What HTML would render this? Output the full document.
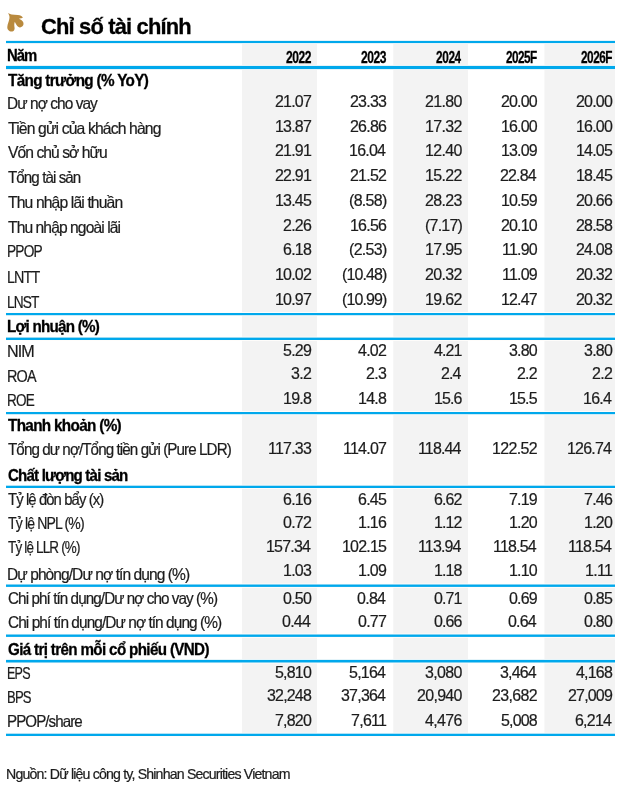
<!DOCTYPE html>
<html><head><meta charset='utf-8'><title>Chỉ số tài chính</title><style>
html,body{margin:0;padding:0;background:#fff}
body{width:627px;height:787px;position:relative;overflow:hidden;font-family:"Liberation Sans", sans-serif;color:#1c1c1c}
.t,.n{position:absolute;white-space:nowrap;line-height:1;transform-origin:0 0}
.n{font-size:17.2px;letter-spacing:-0.8px;transform:scaleX(0.93)}
.t,.n{-webkit-text-stroke:0.22px #1c1c1c}
.b{font-weight:700;color:#000;-webkit-text-stroke:0.3px #000}
.w{position:absolute;left:0;top:0;width:627px;height:787px;will-change:transform}
</style></head><body>
<svg style='position:absolute;left:0;top:0' width='627' height='787' viewBox='0 0 627 787'>
<rect x='242.0' y='43.6' width='75.0' height='690.4' fill='#f3f3f3'/>
<rect x='393.3' y='43.6' width='74.7' height='690.4' fill='#f3f3f3'/>
<rect x='544.4' y='43.6' width='70.6' height='690.4' fill='#f3f3f3'/>
<rect x='6' y='40.0' width='609' height='4.0' fill='#fffdfb'/>
<rect x='6' y='40.9' width='609' height='2.2' fill='#00a8ec'/>
<rect x='6' y='65.0' width='609' height='5.0' fill='#fffdfb'/>
<rect x='6' y='65.9' width='609' height='3.2' fill='#00a8ec'/>
<rect x='6' y='312.1' width='609' height='4.0' fill='#fffdfb'/>
<rect x='6' y='313.0' width='609' height='2.2' fill='#00a8ec'/>
<rect x='6' y='336.7' width='609' height='4.2' fill='#fffdfb'/>
<rect x='6' y='337.6' width='609' height='2.4' fill='#00a8ec'/>
<rect x='6' y='411.1' width='609' height='4.0' fill='#fffdfb'/>
<rect x='6' y='412.0' width='609' height='2.2' fill='#00a8ec'/>
<rect x='6' y='484.8' width='609' height='4.1' fill='#fffdfb'/>
<rect x='6' y='485.7' width='609' height='2.3' fill='#00a8ec'/>
<rect x='6' y='583.6' width='609' height='4.2' fill='#fffdfb'/>
<rect x='6' y='584.5' width='609' height='2.4' fill='#00a8ec'/>
<rect x='6' y='633.6' width='609' height='4.2' fill='#fffdfb'/>
<rect x='6' y='634.5' width='609' height='2.4' fill='#00a8ec'/>
<rect x='6' y='659.0' width='609' height='4.4' fill='#fffdfb'/>
<rect x='6' y='659.9' width='609' height='2.6' fill='#00a8ec'/>
<rect x='6' y='732.8' width='609' height='4.1' fill='#fffdfb'/>
<rect x='6' y='733.7' width='609' height='2.3' fill='#00a8ec'/>
<path fill='#b98a3e' d='M8.10 13.10 Q10.20 14.50 11.60 14.60 Q13.00 14.70 14.45 14.70 Q15.90 14.70 17.85 14.90 Q19.80 15.10 20.90 15.70 Q22.00 16.30 22.90 17.50 Q22.00 18.30 21.20 18.20 Q20.40 18.10 18.80 18.70 Q20.00 19.30 20.95 19.80 Q21.90 20.30 22.80 21.60 Q23.70 22.90 23.50 24.30 Q23.30 25.70 22.20 26.60 Q21.10 27.50 19.80 27.40 Q18.50 27.30 17.55 26.35 Q16.60 25.40 16.10 24.35 Q15.60 23.30 14.80 21.80 Q14.20 23.50 14.27 25.10 Q14.35 26.70 14.57 27.80 Q14.80 28.90 14.25 29.95 Q13.70 31.00 12.45 31.40 Q11.20 31.80 9.75 31.15 Q8.30 30.50 7.70 29.25 Q7.10 28.00 7.35 26.40 Q7.60 24.80 8.25 22.85 Q8.90 20.90 9.25 19.35 Q9.60 17.80 9.45 16.50 Q9.30 15.20 8.10 13.10Z'/>
</svg>
<div class='w'>
<div class='t b' style='left:41.00px;top:15.00px;font-size:22.7px;letter-spacing:-0.861px;transform:scaleX(0.9663)'>Chỉ số tài chính</div>
<div class='t b' style='left:7.00px;top:48.00px;font-size:15.8px;letter-spacing:-1.000px;transform:scaleX(0.9412)'>Năm</div>
<div class='t b' style='left:8.00px;top:73.00px;font-size:15.8px;letter-spacing:-0.691px;transform:scaleX(0.9664)'>Tăng trưởng (% YoY)</div>
<div class='t' style='left:7.00px;top:95.00px;font-size:16.5px;letter-spacing:-1.000px;transform:scaleX(0.9362)'>Dư nợ cho vay</div>
<div class='t' style='left:8.00px;top:120.00px;font-size:16.5px;letter-spacing:-0.908px;transform:scaleX(0.9522)'>Tiền gửi của khách hàng</div>
<div class='t' style='left:8.00px;top:144.00px;font-size:16.5px;letter-spacing:-1.000px;transform:scaleX(0.9485)'>Vốn chủ sở hữu</div>
<div class='t' style='left:8.00px;top:169.00px;font-size:16.5px;letter-spacing:-1.000px;transform:scaleX(0.9180)'>Tổng tài sản</div>
<div class='t' style='left:8.00px;top:194.00px;font-size:16.5px;letter-spacing:-0.916px;transform:scaleX(0.9508)'>Thu nhập lãi thuần</div>
<div class='t' style='left:8.00px;top:219.00px;font-size:16.5px;letter-spacing:-0.972px;transform:scaleX(0.9471)'>Thu nhập ngoài lãi</div>
<div class='t' style='left:7.00px;top:243.00px;font-size:16.5px;letter-spacing:-1.000px;transform:scaleX(0.8309)'>PPOP</div>
<div class='t' style='left:7.00px;top:269.00px;font-size:16.5px;letter-spacing:-1.000px;transform:scaleX(0.8671)'>LNTT</div>
<div class='t' style='left:7.00px;top:294.00px;font-size:16.5px;letter-spacing:-1.000px;transform:scaleX(0.8287)'>LNST</div>
<div class='t b' style='left:7.00px;top:319.00px;font-size:15.8px;letter-spacing:-0.786px;transform:scaleX(0.9615)'>Lợi nhuận (%)</div>
<div class='t' style='left:7.00px;top:343.00px;font-size:16.5px;letter-spacing:-0.972px;transform:scaleX(0.9762)'>NIM</div>
<div class='t' style='left:7.00px;top:368.00px;font-size:16.5px;letter-spacing:-1.000px;transform:scaleX(0.8741)'>ROA</div>
<div class='t' style='left:7.00px;top:392.00px;font-size:16.5px;letter-spacing:-1.000px;transform:scaleX(0.8207)'>ROE</div>
<div class='t b' style='left:8.00px;top:418.00px;font-size:15.8px;letter-spacing:-0.697px;transform:scaleX(0.9674)'>Thanh khoản (%)</div>
<div class='t' style='left:8.00px;top:441.00px;font-size:16.5px;letter-spacing:-1.000px;transform:scaleX(0.9213)'>Tổng dư nợ/Tổng tiền gửi (Pure LDR)</div>
<div class='t b' style='left:8.00px;top:468.00px;font-size:15.8px;letter-spacing:-0.845px;transform:scaleX(0.9556)'>Chất lượng tài sản</div>
<div class='t' style='left:8.00px;top:491.00px;font-size:16.5px;letter-spacing:-1.000px;transform:scaleX(0.8996)'>Tỷ lệ đòn bẩy (x)</div>
<div class='t' style='left:8.00px;top:515.00px;font-size:16.5px;letter-spacing:-1.000px;transform:scaleX(0.8505)'>Tỷ lệ NPL (%)</div>
<div class='t' style='left:8.00px;top:539.00px;font-size:16.5px;letter-spacing:-1.000px;transform:scaleX(0.8160)'>Tỷ lệ LLR (%)</div>
<div class='t' style='left:7.00px;top:566.00px;font-size:16.5px;letter-spacing:-1.000px;transform:scaleX(0.9436)'>Dự phòng/Dư nợ tín dụng (%)</div>
<div class='t' style='left:8.00px;top:590.00px;font-size:16.5px;letter-spacing:-1.000px;transform:scaleX(0.9236)'>Chi phí tín dụng/Dư nợ cho vay (%)</div>
<div class='t' style='left:8.00px;top:614.00px;font-size:16.5px;letter-spacing:-1.000px;transform:scaleX(0.9348)'>Chi phí tín dụng/Dư nợ tín dụng (%)</div>
<div class='t b' style='left:8.00px;top:642.00px;font-size:15.8px;letter-spacing:-0.681px;transform:scaleX(0.9615)'>Giá trị trên mỗi cổ phiếu (VND)</div>
<div class='t' style='left:7.00px;top:665.00px;font-size:16.5px;letter-spacing:-1.000px;transform:scaleX(0.7578)'>EPS</div>
<div class='t' style='left:7.00px;top:689.00px;font-size:16.5px;letter-spacing:-1.000px;transform:scaleX(0.7933)'>BPS</div>
<div class='t' style='left:7.00px;top:713.00px;font-size:16.5px;letter-spacing:-1.000px;transform:scaleX(0.9160)'>PPOP/share</div>
<div class='t' style='left:6.00px;top:766.00px;font-size:15.0px;letter-spacing:-0.880px;transform:scaleX(0.9434)'>Nguồn: Dữ liệu công ty, Shinhan Securities Vietnam</div>
<div class='t b' style='left:286.00px;top:49.00px;font-size:17.0px;letter-spacing:-0.663px;transform:scaleX(0.7096)'>2022</div>
<div class='t b' style='left:361.00px;top:49.00px;font-size:17.0px;letter-spacing:-0.663px;transform:scaleX(0.7096)'>2023</div>
<div class='t b' style='left:436.00px;top:49.00px;font-size:17.0px;letter-spacing:-0.527px;transform:scaleX(0.6933)'>2024</div>
<div class='t b' style='left:506.00px;top:49.00px;font-size:17.0px;letter-spacing:-0.769px;transform:scaleX(0.6906)'>2025F</div>
<div class='t b' style='left:581.00px;top:49.00px;font-size:17.0px;letter-spacing:-0.661px;transform:scaleX(0.6906)'>2026F</div>
<div class='n' style='left:275px;top:93px;letter-spacing:-0.855px'>21.07</div>
<div class='n' style='left:350px;top:93px;letter-spacing:-0.828px'>23.33</div>
<div class='n' style='left:425px;top:93px;letter-spacing:-0.694px'>21.80</div>
<div class='n' style='left:501px;top:93px;letter-spacing:-0.909px'>20.00</div>
<div class='n' style='left:576px;top:93px;letter-spacing:-0.855px'>20.00</div>
<div class='n' style='left:275px;top:118px;letter-spacing:-0.855px'>13.87</div>
<div class='n' style='left:350px;top:118px;letter-spacing:-0.828px'>26.86</div>
<div class='n' style='left:425px;top:118px;letter-spacing:-0.694px'>17.32</div>
<div class='n' style='left:501px;top:118px;letter-spacing:-0.909px'>16.00</div>
<div class='n' style='left:576px;top:118px;letter-spacing:-0.855px'>16.00</div>
<div class='n' style='left:275px;top:142px;letter-spacing:-0.855px'>21.91</div>
<div class='n' style='left:349px;top:142px;letter-spacing:-0.809px'>16.04</div>
<div class='n' style='left:425px;top:142px;letter-spacing:-0.694px'>12.40</div>
<div class='n' style='left:501px;top:142px;letter-spacing:-0.909px'>13.09</div>
<div class='n' style='left:576px;top:142px;letter-spacing:-0.855px'>14.05</div>
<div class='n' style='left:275px;top:167px;letter-spacing:-0.855px'>22.91</div>
<div class='n' style='left:350px;top:167px;letter-spacing:-0.828px'>21.52</div>
<div class='n' style='left:425px;top:167px;letter-spacing:-0.694px'>15.22</div>
<div class='n' style='left:500px;top:167px;letter-spacing:-0.890px'>22.84</div>
<div class='n' style='left:576px;top:167px;letter-spacing:-0.855px'>18.45</div>
<div class='n' style='left:275px;top:192px;letter-spacing:-0.855px'>13.45</div>
<div class='n' style='left:349.00px;top:192.00px;letter-spacing:-0.728px'>(8.58)</div>
<div class='n' style='left:425px;top:192px;letter-spacing:-0.694px'>28.23</div>
<div class='n' style='left:501px;top:192px;letter-spacing:-0.909px'>10.59</div>
<div class='n' style='left:576px;top:192px;letter-spacing:-0.855px'>20.66</div>
<div class='n' style='left:283px;top:217px;letter-spacing:-0.821px'>2.26</div>
<div class='n' style='left:350px;top:217px;letter-spacing:-0.828px'>16.56</div>
<div class='n' style='left:425.00px;top:217.00px;letter-spacing:-0.835px'>(7.17)</div>
<div class='n' style='left:501px;top:217px;letter-spacing:-0.909px'>20.10</div>
<div class='n' style='left:576px;top:217px;letter-spacing:-0.855px'>28.58</div>
<div class='n' style='left:283px;top:241px;letter-spacing:-0.821px'>6.18</div>
<div class='n' style='left:349.00px;top:241.00px;letter-spacing:-0.728px'>(2.53)</div>
<div class='n' style='left:425px;top:241px;letter-spacing:-0.694px'>17.95</div>
<div class='n' style='left:502px;top:241px;letter-spacing:-0.858px'>11.90</div>
<div class='n' style='left:576px;top:241px;letter-spacing:-0.855px'>24.08</div>
<div class='n' style='left:275px;top:266px;letter-spacing:-0.855px'>10.02</div>
<div class='n' style='left:342.00px;top:266.00px;letter-spacing:-0.945px'>(10.48)</div>
<div class='n' style='left:425px;top:266px;letter-spacing:-0.694px'>20.32</div>
<div class='n' style='left:502px;top:266px;letter-spacing:-0.858px'>11.09</div>
<div class='n' style='left:576px;top:266px;letter-spacing:-0.855px'>20.32</div>
<div class='n' style='left:275px;top:291px;letter-spacing:-0.855px'>10.97</div>
<div class='n' style='left:342.00px;top:291.00px;letter-spacing:-0.945px'>(10.99)</div>
<div class='n' style='left:425px;top:291px;letter-spacing:-0.694px'>19.62</div>
<div class='n' style='left:501px;top:291px;letter-spacing:-0.909px'>12.47</div>
<div class='n' style='left:576px;top:291px;letter-spacing:-0.855px'>20.32</div>
<div class='n' style='left:283px;top:342px;letter-spacing:-0.821px'>5.29</div>
<div class='n' style='left:358px;top:342px;letter-spacing:-0.785px'>4.02</div>
<div class='n' style='left:434px;top:342px;letter-spacing:-0.964px'>4.21</div>
<div class='n' style='left:509px;top:342px;letter-spacing:-0.893px'>3.80</div>
<div class='n' style='left:584px;top:342px;letter-spacing:-0.821px'>3.80</div>
<div class='n' style='left:291px;top:365px;letter-spacing:-0.753px'>3.2</div>
<div class='n' style='left:366px;top:365px;letter-spacing:-0.699px'>2.3</div>
<div class='n' style='left:441px;top:365px;letter-spacing:-0.930px'>2.4</div>
<div class='n' style='left:517px;top:365px;letter-spacing:-0.861px'>2.2</div>
<div class='n' style='left:592px;top:365px;letter-spacing:-0.753px'>2.2</div>
<div class='n' style='left:283px;top:390px;letter-spacing:-0.821px'>19.8</div>
<div class='n' style='left:358px;top:390px;letter-spacing:-0.785px'>14.8</div>
<div class='n' style='left:434px;top:390px;letter-spacing:-0.964px'>15.6</div>
<div class='n' style='left:509px;top:390px;letter-spacing:-0.893px'>15.5</div>
<div class='n' style='left:583px;top:390px;letter-spacing:-0.796px'>16.4</div>
<div class='n' style='left:268px;top:440px;letter-spacing:-0.835px'>117.33</div>
<div class='n' style='left:343px;top:440px;letter-spacing:-0.813px'>114.07</div>
<div class='n' style='left:418px;top:440px;letter-spacing:-0.906px'>118.44</div>
<div class='n' style='left:492px;top:440px;letter-spacing:-0.703px'>122.52</div>
<div class='n' style='left:567px;top:440px;letter-spacing:-0.860px'>126.74</div>
<div class='n' style='left:283px;top:491px;letter-spacing:-0.821px'>6.16</div>
<div class='n' style='left:358px;top:491px;letter-spacing:-0.785px'>6.45</div>
<div class='n' style='left:434px;top:491px;letter-spacing:-0.964px'>6.62</div>
<div class='n' style='left:509px;top:491px;letter-spacing:-0.893px'>7.19</div>
<div class='n' style='left:584px;top:491px;letter-spacing:-0.821px'>7.46</div>
<div class='n' style='left:283px;top:514px;letter-spacing:-0.821px'>0.72</div>
<div class='n' style='left:358px;top:514px;letter-spacing:-0.785px'>1.16</div>
<div class='n' style='left:434px;top:514px;letter-spacing:-0.964px'>1.12</div>
<div class='n' style='left:509px;top:514px;letter-spacing:-0.893px'>1.20</div>
<div class='n' style='left:584px;top:514px;letter-spacing:-0.821px'>1.20</div>
<div class='n' style='left:266px;top:538px;letter-spacing:-0.860px'>157.34</div>
<div class='n' style='left:342px;top:538px;letter-spacing:-0.854px'>102.15</div>
<div class='n' style='left:418px;top:538px;letter-spacing:-0.906px'>113.94</div>
<div class='n' style='left:493px;top:538px;letter-spacing:-0.863px'>118.54</div>
<div class='n' style='left:568px;top:538px;letter-spacing:-0.820px'>118.54</div>
<div class='n' style='left:283px;top:562px;letter-spacing:-0.821px'>1.03</div>
<div class='n' style='left:358px;top:562px;letter-spacing:-0.785px'>1.09</div>
<div class='n' style='left:434px;top:562px;letter-spacing:-0.964px'>1.18</div>
<div class='n' style='left:509px;top:562px;letter-spacing:-0.893px'>1.10</div>
<div class='n' style='left:585px;top:562px;letter-spacing:-0.754px'>1.11</div>
<div class='n' style='left:283px;top:590px;letter-spacing:-0.821px'>0.50</div>
<div class='n' style='left:357px;top:590px;letter-spacing:-0.760px'>0.84</div>
<div class='n' style='left:434px;top:590px;letter-spacing:-0.964px'>0.71</div>
<div class='n' style='left:509px;top:590px;letter-spacing:-0.893px'>0.69</div>
<div class='n' style='left:584px;top:590px;letter-spacing:-0.821px'>0.85</div>
<div class='n' style='left:282px;top:613px;letter-spacing:-0.796px'>0.44</div>
<div class='n' style='left:358px;top:613px;letter-spacing:-0.785px'>0.77</div>
<div class='n' style='left:434px;top:613px;letter-spacing:-0.964px'>0.66</div>
<div class='n' style='left:508px;top:613px;letter-spacing:-0.868px'>0.64</div>
<div class='n' style='left:584px;top:613px;letter-spacing:-0.821px'>0.80</div>
<div class='n' style='left:275px;top:664px;letter-spacing:-0.855px'>5,810</div>
<div class='n' style='left:349px;top:664px;letter-spacing:-0.809px'>5,164</div>
<div class='n' style='left:425px;top:664px;letter-spacing:-0.694px'>3,080</div>
<div class='n' style='left:500px;top:664px;letter-spacing:-0.890px'>3,464</div>
<div class='n' style='left:576px;top:664px;letter-spacing:-0.855px'>4,168</div>
<div class='n' style='left:267px;top:687px;letter-spacing:-0.875px'>32,248</div>
<div class='n' style='left:341px;top:687px;letter-spacing:-0.839px'>37,364</div>
<div class='n' style='left:417px;top:687px;letter-spacing:-0.746px'>20,940</div>
<div class='n' style='left:492px;top:687px;letter-spacing:-0.703px'>23,682</div>
<div class='n' style='left:568px;top:687px;letter-spacing:-0.875px'>27,009</div>
<div class='n' style='left:275px;top:712px;letter-spacing:-0.855px'>7,820</div>
<div class='n' style='left:351px;top:712px;letter-spacing:-0.778px'>7,611</div>
<div class='n' style='left:425px;top:712px;letter-spacing:-0.694px'>4,476</div>
<div class='n' style='left:501px;top:712px;letter-spacing:-0.909px'>5,008</div>
<div class='n' style='left:575px;top:712px;letter-spacing:-0.836px'>6,214</div>
</div>
</body></html>
